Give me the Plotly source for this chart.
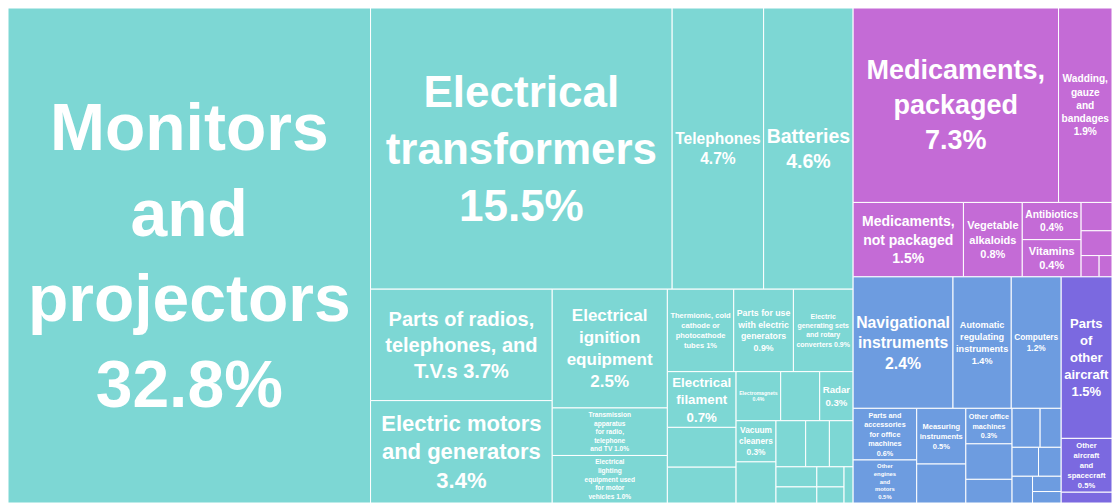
import plotly.graph_objects as go

# ---- data: share of exports (%) by product, grouped by section ----
sections = ["Machines", "Chemical Products", "Instruments", "Transportation"]

machines_names = [
    "Monitors and projectors", "Electrical transformers", "Telephones", "Batteries",
    "Parts of radios, telephones, and T.V.s", "Electric motors and generators",
    "Electrical ignition equipment", "Transmission apparatus for radio, telephone and TV",
    "Electrical lighting equipment used for motor vehicles",
    "Thermionic, cold cathode or photocathode tubes",
    "Parts for use with electric generators", "Electric generating sets and rotary converters",
    "Electrical filament", "Electromagnets", "Radar", "Vacuum cleaners",
    "Electric sound or visual signalling equipment", "Microphones and headphones",
    "Insulated wire", "Electrical capacitors", "Electrical resistors",
    "Printed circuit boards", "Low-voltage protection equipment", "Semiconductor devices",
    "Integrated circuits", "Electric heaters", "Electric soldering equipment",
    "Video recording equipment",
]
machines_values = [32.8, 15.5, 4.7, 4.6, 3.7, 3.4, 2.5, 1.0, 1.0, 1.0, 0.9, 0.9, 0.7, 0.4,
                   0.3, 0.3, 0.5, 0.45, 0.35, 0.3, 0.25, 0.2, 0.2, 0.15, 0.12, 0.1, 0.08, 0.06]

chemical_names = [
    "Medicaments, packaged", "Wadding, gauze and bandages", "Medicaments, not packaged",
    "Vegetable alkaloids", "Antibiotics", "Vitamins",
    "Hormones", "Glands and other organs", "Blood, antisera and vaccines", "Enzymes",
]
chemical_values = [7.3, 1.9, 1.5, 0.8, 0.4, 0.4, 0.16, 0.14, 0.07, 0.05]

instrument_names = [
    "Navigational instruments", "Automatic regulating instruments", "Computers",
    "Other engines and motors", "Other office machines",
    "Parts and accessories for office machines", "Measuring instruments",
    "Liquid pumps", "Air pumps", "Valves", "Ball bearings", "Optical fibers",
    "Medical instruments", "Orthopedic appliances", "X-ray equipment",
    "Surveying equipment", "Microscopes",
]
instrument_values = [2.4, 1.4, 1.2, 0.5, 0.3, 0.6, 0.5,
                     0.35, 0.3, 0.2, 0.2, 0.15, 0.14, 0.12, 0.1, 0.08, 0.06]

transport_names = ["Parts of other aircraft", "Other aircraft and spacecraft",
                   "Aircraft launch gear"]
transport_values = [1.5, 0.5, 0.1]

# wrapped display text for the labelled tiles (others stay blank)
display_text = {
    "Monitors and projectors": "Monitors<br>and<br>projectors",
    "Electrical transformers": "Electrical<br>transformers",
    "Telephones": "Telephones",
    "Batteries": "Batteries",
    "Parts of radios, telephones, and T.V.s": "Parts of radios,<br>telephones, and<br>T.V.s",
    "Electric motors and generators": "Electric motors<br>and generators",
    "Electrical ignition equipment": "Electrical<br>ignition<br>equipment",
    "Thermionic, cold cathode or photocathode tubes": "Thermionic, cold<br>cathode or<br>photocathode<br>tubes",
    "Parts for use with electric generators": "Parts for use<br>with electric<br>generators",
    "Electric generating sets and rotary converters": "Electric<br>generating sets<br>and rotary<br>converters",
    "Transmission apparatus for radio, telephone and TV": "Transmission<br>apparatus<br>for radio,<br>telephone<br>and TV",
    "Electrical lighting equipment used for motor vehicles": "Electrical<br>lighting<br>equipment used<br>for motor<br>vehicles",
    "Electrical filament": "Electrical<br>filament",
    "Electromagnets": "Electromagnets",
    "Radar": "Radar",
    "Vacuum cleaners": "Vacuum<br>cleaners",
    "Medicaments, packaged": "Medicaments,<br>packaged",
    "Wadding, gauze and bandages": "Wadding,<br>gauze<br>and<br>bandages",
    "Medicaments, not packaged": "Medicaments,<br>not packaged",
    "Vegetable alkaloids": "Vegetable<br>alkaloids",
    "Antibiotics": "Antibiotics",
    "Vitamins": "Vitamins",
    "Navigational instruments": "Navigational<br>instruments",
    "Automatic regulating instruments": "Automatic<br>regulating<br>instruments",
    "Computers": "Computers",
    "Other engines and motors": "Other<br>engines<br>and<br>motors",
    "Other office machines": "Other office<br>machines",
    "Parts and accessories for office machines": "Parts and<br>accessories<br>for office<br>machines",
    "Measuring instruments": "Measuring<br>instruments",
    "Parts of other aircraft": "Parts<br>of<br>other<br>aircraft",
    "Other aircraft and spacecraft": "Other<br>aircraft<br>and<br>spacecraft",
}

# ---- styling ----
section_colors = {
    "Machines": "#7dd7d4",
    "Chemical Products": "#c46bd6",
    "Instruments": "#6d9ce0",
    "Transportation": "#7b69e0",
}
# largest font per tile; plotly shrinks text that does not fit
font_max = {
    "Monitors and projectors": 66, "Electrical transformers": 44, "Telephones": 28,
    "Batteries": 36, "Parts of radios, telephones, and T.V.s": 20,
    "Electric motors and generators": 22, "Electrical ignition equipment": 17,
    "Electrical filament": 14, "Radar": 13, "Medicaments, packaged": 27,
    "Medicaments, not packaged": 14, "Navigational instruments": 20,
    "Computers": 16, "Parts of other aircraft": 13,
}
same_line_pct = {
    "Parts of radios, telephones, and T.V.s", "Thermionic, cold cathode or photocathode tubes",
    "Electric generating sets and rotary converters",
    "Transmission apparatus for radio, telephone and TV",
    "Electrical lighting equipment used for motor vehicles",
}
pct_format = {"Thermionic, cold cathode or photocathode tubes": ".0f"}

groups = [
    ("Machines", machines_names, machines_values),
    ("Chemical Products", chemical_names, chemical_values),
    ("Instruments", instrument_names, instrument_values),
    ("Transportation", transport_names, transport_values),
]

ids, labels, parents, values, colors, texts, templates, sizes = [], [], [], [], [], [], [], []
for sec in sections:
    ids.append(sec); labels.append(sec); parents.append(""); values.append(0)
    colors.append(section_colors[sec]); texts.append(""); templates.append(""); sizes.append(10)
for sec, names, vals in groups:
    for n, v in zip(names, vals):
        ids.append(n); labels.append(n); parents.append(sec); values.append(v)
        colors.append(section_colors[sec])
        t = display_text.get(n)
        if t is None:
            texts.append(""); templates.append("")
        else:
            sep = " " if n in same_line_pct else "<br>"
            fmt = pct_format.get(n, ".1f")
            texts.append(t)
            templates.append("<b>%{text}" + sep + "%{value:" + fmt + "}%</b>")
        sizes.append(font_max.get(n, 11))

fig = go.Figure(go.Treemap(
    ids=ids, labels=labels, parents=parents, values=values,
    branchvalues="remainder",
    text=texts, texttemplate=templates,
    textposition="middle center",
    textfont=dict(family="Liberation Sans, Arial, sans-serif", color="white", size=sizes),
    marker=dict(colors=colors, line=dict(color="white", width=1),
                pad=dict(t=0, l=0, r=0, b=0), depthfade=False),
    tiling=dict(packing="squarify", squarifyratio=1.5, pad=0),
    pathbar=dict(visible=False),
    sort=True,
    hoverinfo="label+value",
))
fig.update_layout(
    width=1112, height=503,
    margin=dict(l=8, t=8, r=0, b=0),
    paper_bgcolor="white",
    showlegend=False,
)
fig.write_html("out.html")
